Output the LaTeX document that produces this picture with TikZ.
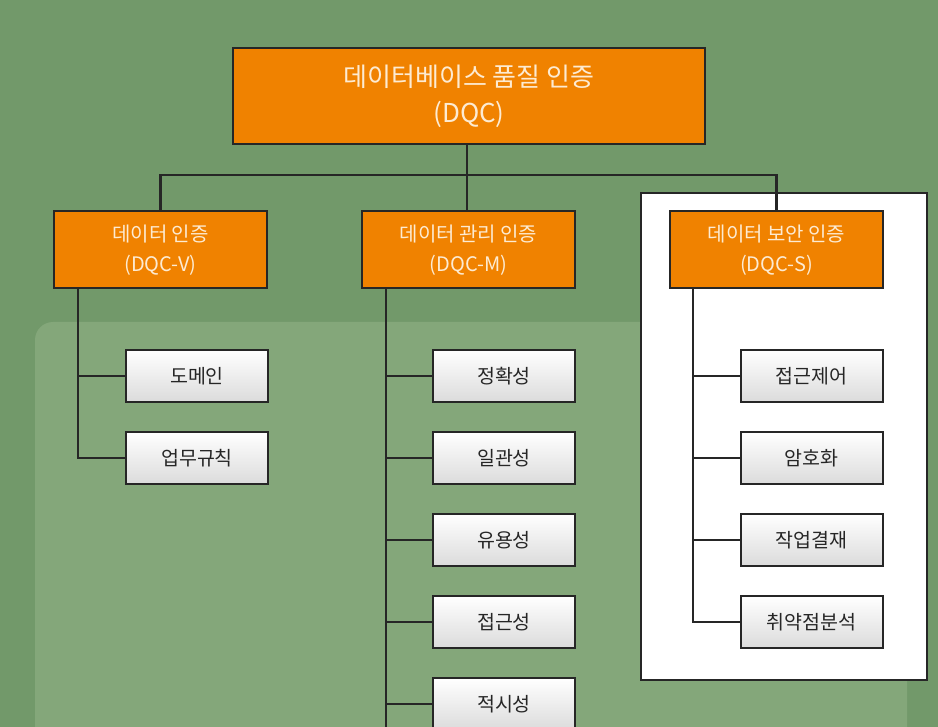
\documentclass[tikz,border=0pt]{standalone}
\usepackage{fontspec}
\setmainfont{Noto Sans CJK KR}
\definecolor{bgout}{HTML}{72996A}
\definecolor{bgin}{HTML}{84A77A}
\definecolor{orng}{HTML}{F08200}
\definecolor{txtl}{HTML}{FDEBD2}
\definecolor{lnk}{HTML}{262626}
\begin{document}
\begin{tikzpicture}[x=1pt,y=-1pt,
  orbox/.style={draw=lnk, line width=2pt, fill=orng, text=txtl, align=center, inner sep=0pt},
  leaf/.style={draw=lnk, line width=2pt, top color=white, bottom color=gray!28, text=black!85,
     minimum width=142pt, minimum height=52pt, inner sep=0pt, font=\fontsize{19.5}{22}\selectfont},
  conn/.style={draw=lnk, line width=2.2pt}]
\useasboundingbox (0,0) rectangle (938,727);
% background
\fill[bgout] (0,0) rectangle (938,727);
\fill[bgin, rounded corners=18pt] (35,322) rectangle (907,760);
% white panel
\draw[fill=white, draw=lnk, line width=1.8pt] (641,193) rectangle (927,680);
% top box
\node[orbox, minimum width=472pt, minimum height=96pt, font=\fontsize{26}{36}\selectfont] (top) at (469,96) {데이터베이스 품질 인증\\(DQC)};
% level 2
\node[orbox, minimum width=213pt, minimum height=77pt, font=\fontsize{20}{30}\selectfont] (v) at (160.5,250) {데이터 인증\\(DQC-V)};
\node[orbox, minimum width=213pt, minimum height=77pt, font=\fontsize{20}{30}\selectfont] (m) at (468.5,250) {데이터 관리 인증\\(DQC-M)};
\node[orbox, minimum width=213pt, minimum height=77pt, font=\fontsize{20}{30}\selectfont] (s) at (776.5,250) {데이터 보안 인증\\(DQC-S)};
% connectors from top
\coordinate (j) at (467,175);
\draw[conn] (top.south -| j) -- (j);
\draw[conn] (v.north) -- (v.north |- j) -- (s.north |- j) -- (s.north);
\draw[conn] (j) -- (m.north -| j);
% leaves
\node[leaf] (v1) at (197,376) {도메인};
\node[leaf] (v2) at (197,458) {업무규칙};
\node[leaf] (m1) at (504,376) {정확성};
\node[leaf] (m2) at (504,458) {일관성};
\node[leaf] (m3) at (504,540) {유용성};
\node[leaf] (m4) at (504,622) {접근성};
\node[leaf] (m5) at (504,704) {적시성};
\node[leaf] (s1) at (811.5,376) {접근제어};
\node[leaf] (s2) at (811.5,458) {암호화};
\node[leaf] (s3) at (811.5,540) {작업결재};
\node[leaf] (s4) at (811.5,622) {취약점분석};
% branches
\coordinate (vs) at ([xshift=25pt]v.south west);
\coordinate (ms) at ([xshift=25pt]m.south west);
\coordinate (ss) at ([xshift=24pt]s.south west);
\coordinate (mb) at (387,730);
\draw[conn] (vs) |- (v2.west);
\draw[conn] (vs |- v1.west) -- (v1.west);
\draw[conn] (ms) -- (ms |- mb);
\foreach \n in {m1,m2,m3,m4,m5} \draw[conn] (ms |- \n.west) -- (\n.west);
\draw[conn] (ss) |- (s4.west);
\foreach \n in {s1,s2,s3} \draw[conn] (ss |- \n.west) -- (\n.west);
\end{tikzpicture}
\end{document}
